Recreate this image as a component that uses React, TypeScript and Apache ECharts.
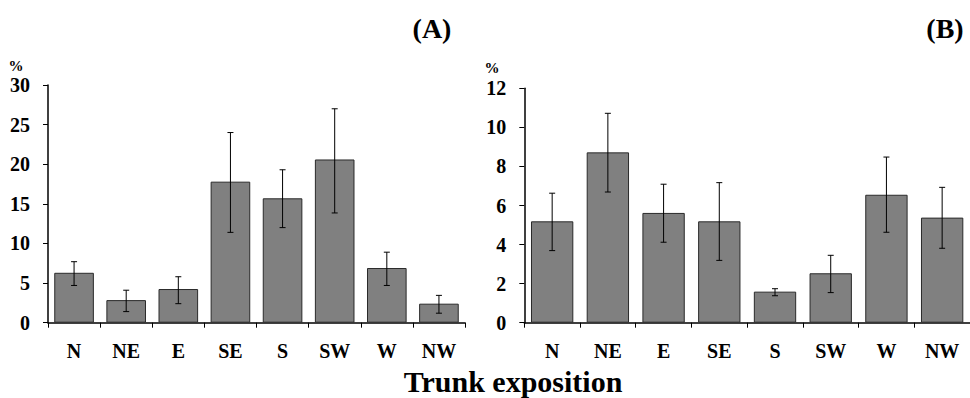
import React, { useEffect, useRef } from "react";
import * as echarts from "echarts";

const categories = ["N", "NE", "E", "SE", "S", "SW", "W", "NW"];

const valuesA = [6.3, 2.85, 4.25, 17.8, 15.7, 20.6, 6.9, 2.4];
const lowA = [4.7, 1.4, 2.4, 11.4, 12.0, 13.85, 4.7, 1.2];
const highA = [7.7, 4.1, 5.8, 24.0, 19.3, 27.0, 8.9, 3.45];

const valuesB = [5.19, 8.72, 5.62, 5.19, 1.59, 2.53, 6.55, 5.38];
const lowB = [3.69, 6.69, 4.12, 3.19, 1.38, 1.54, 4.63, 3.81];
const highB = [6.63, 10.72, 7.09, 7.17, 1.74, 3.45, 8.48, 6.93];

const ticksA = { min: 0, max: 30, interval: 5 };
const ticksB = { min: 0, max: 12, interval: 2 };

const FONT = "Liberation Serif";

function errorRender(params: any, api: any) {
  const x = api.value(0);
  const lo = api.coord([x, api.value(1)]);
  const hi = api.coord([x, api.value(2)]);
  const cap = 3;
  const style = { stroke: "#000", lineWidth: 1 };
  return {
    type: "group",
    children: [
      { type: "line", shape: { x1: lo[0], y1: lo[1], x2: hi[0], y2: hi[1] }, style },
      { type: "line", shape: { x1: hi[0] - cap, y1: hi[1], x2: hi[0] + cap, y2: hi[1] }, style },
      { type: "line", shape: { x1: lo[0] - cap, y1: lo[1], x2: lo[0] + cap, y2: lo[1] }, style },
    ],
  };
}

export default function App() {
  const ref = useRef<HTMLDivElement>(null);
  useEffect(() => {
    document.body.style.margin = "0";
    const chart = echarts.init(ref.current!, null, { renderer: "svg" });
    const xAxisCommon = {
      type: "category" as const,
      data: categories,
      axisLine: { lineStyle: { color: "#000", width: 1.5 } },
      axisTick: { show: true, alignWithLabel: false, length: 5, lineStyle: { color: "#000" } },
      axisLabel: { color: "#000", fontFamily: FONT, fontWeight: "bold", fontSize: 20, margin: 18 },
    };
    const yAxisCommon = {
      type: "value" as const,
      axisLine: { show: true, lineStyle: { color: "#000", width: 1.5 } },
      axisTick: { show: true, length: 5, lineStyle: { color: "#000" } },
      splitLine: { show: false },
      axisLabel: { color: "#000", fontFamily: FONT, fontWeight: "bold", fontSize: 20, margin: 18 },
    };
    const barStyle = { color: "#808080", borderColor: "#2a2a2a", borderWidth: 1 };
    chart.setOption({
      animation: false,
      grid: [
        { left: 48, top: 85, width: 417, height: 237.7 },
        { left: 524.3, top: 88.3, width: 453, height: 234.4 },
      ],
      xAxis: [
        { ...xAxisCommon, gridIndex: 0 },
        { ...xAxisCommon, gridIndex: 1 },
      ],
      yAxis: [
        { ...yAxisCommon, gridIndex: 0, ...ticksA },
        { ...yAxisCommon, gridIndex: 1, ...ticksB },
      ],
      series: [
        {
          type: "bar",
          xAxisIndex: 0,
          yAxisIndex: 0,
          data: valuesA,
          barCategoryGap: "24%",
          itemStyle: barStyle,
        },
        {
          type: "custom",
          xAxisIndex: 0,
          yAxisIndex: 0,
          renderItem: errorRender,
          data: categories.map((_, i) => [i, lowA[i], highA[i]]),
          z: 10,
        },
        {
          type: "bar",
          xAxisIndex: 1,
          yAxisIndex: 1,
          data: valuesB,
          barCategoryGap: "24%",
          itemStyle: barStyle,
        },
        {
          type: "custom",
          xAxisIndex: 1,
          yAxisIndex: 1,
          renderItem: errorRender,
          data: categories.map((_, i) => [i, lowB[i], highB[i]]),
          z: 10,
        },
      ],
      graphic: [
        {
          type: "text",
          x: 432,
          y: 28,
          style: {
            text: "(A)",
            font: `bold 28px "${FONT}"`,
            fill: "#000",
            align: "center",
            verticalAlign: "middle",
          },
        },
        {
          type: "text",
          x: 945,
          y: 28,
          style: {
            text: "(B)",
            font: `bold 28px "${FONT}"`,
            fill: "#000",
            align: "center",
            verticalAlign: "middle",
          },
        },
        {
          type: "text",
          x: 16,
          y: 66,
          style: {
            text: "%",
            font: `bold 15px "${FONT}"`,
            fill: "#000",
            align: "center",
            verticalAlign: "middle",
          },
        },
        {
          type: "text",
          x: 492,
          y: 68,
          style: {
            text: "%",
            font: `bold 15px "${FONT}"`,
            fill: "#000",
            align: "center",
            verticalAlign: "middle",
          },
        },
        {
          type: "text",
          x: 513,
          y: 381,
          style: {
            text: "Trunk exposition",
            font: `bold 30px "${FONT}"`,
            fill: "#000",
            align: "center",
            verticalAlign: "middle",
          },
        },
      ],
    });
    return () => chart.dispose();
  }, []);
  return <div ref={ref} style={{ width: 970, height: 398 }} />;
}
